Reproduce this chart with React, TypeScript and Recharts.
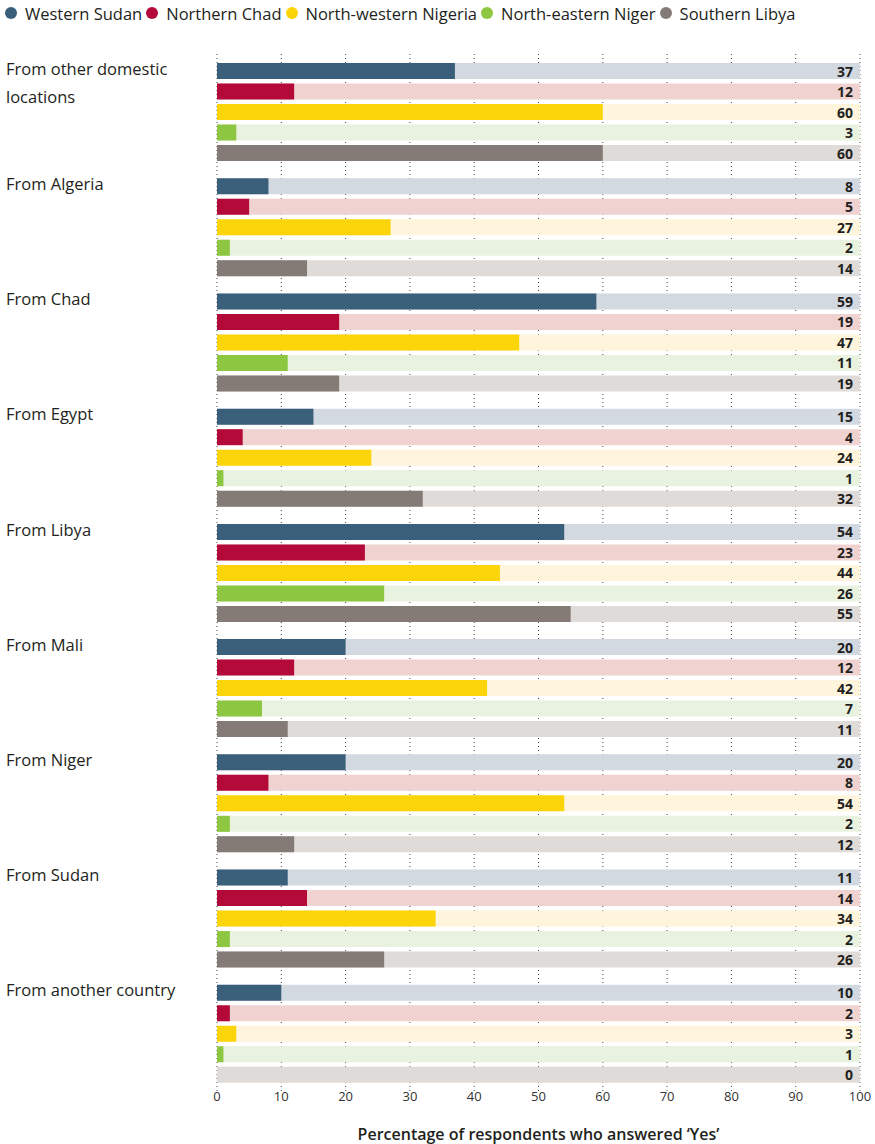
import React from "react";
import {
  BarChart,
  Bar,
  XAxis,
  YAxis,
  CartesianGrid,
  Legend,
  LabelList,
  Label,
} from "recharts";

const categories = [
  "From other domestic locations",
  "From Algeria",
  "From Chad",
  "From Egypt",
  "From Libya",
  "From Mali",
  "From Niger",
  "From Sudan",
  "From another country",
];

const westernSudan = [37, 8, 59, 15, 54, 20, 20, 11, 10];
const northernChad = [12, 5, 19, 4, 23, 12, 8, 14, 2];
const nwNigeria = [60, 27, 47, 24, 44, 42, 54, 34, 3];
const neNiger = [3, 2, 11, 1, 26, 7, 2, 2, 1];
const southernLibya = [60, 14, 19, 32, 55, 11, 12, 26, 0];

const xTicks = [0, 10, 20, 30, 40, 50, 60, 70, 80, 90, 100];

const series = [
  { key: "ws", name: "Western Sudan", values: westernSudan, color: "#3a5f7b", bg: "#d3d9e0" },
  { key: "nc", name: "Northern Chad", values: northernChad, color: "#b40a3a", bg: "#f0d3d0" },
  { key: "nn", name: "North-western Nigeria", values: nwNigeria, color: "#fcd40a", bg: "#fef5dc" },
  { key: "ne", name: "North-eastern Niger", values: neNiger, color: "#8dc641", bg: "#e9f2de" },
  { key: "sl", name: "Southern Libya", values: southernLibya, color: "#857b76", bg: "#dfdbd8" },
];

const data = categories.map((name, i) => {
  const row: Record<string, string | number> = { name };
  series.forEach((s) => {
    row[s.key] = s.values[i];
  });
  return row;
});

const FONT = "'Open Sans', sans-serif";
const WIDTH = 875;
const HEIGHT = 1144;
const MARGIN = { top: 28, right: 15, left: 0, bottom: 0 };
const PLOT_RIGHT = WIDTH - MARGIN.right;

function wrap(text: string, max: number): string[] {
  const lines: string[] = [];
  let cur = "";
  text.split(" ").forEach((w) => {
    const next = cur ? cur + " " + w : w;
    if (next.length > max && cur) {
      lines.push(cur);
      cur = w;
    } else {
      cur = next;
    }
  });
  if (cur) lines.push(cur);
  return lines;
}

const CategoryTick = (props: any) => {
  const { y, payload } = props;
  const lines = wrap(String(payload.value), 20);
  return (
    <text
      x={6}
      y={y - 44}
      fill="#231f20"
      fontSize={16.5}
      fontFamily={FONT}
      dominantBaseline="central"
    >
      {lines.map((l, i) => (
        <tspan key={i} x={6} dy={i === 0 ? 0 : 28}>
          {l}
        </tspan>
      ))}
    </text>
  );
};

const ValueLabel = (props: any) => {
  const vb = props.viewBox || {};
  const y = Number(props.y ?? vb.y);
  const h = Number(props.height ?? vb.height);
  return (
    <text
      x={PLOT_RIGHT - 7}
      y={y + h / 2}
      textAnchor="end"
      dominantBaseline="central"
      fontSize={14}
      fontWeight={700}
      fontFamily={FONT}
      fill="#231f20"
    >
      {props.value}
    </text>
  );
};

const LegendContent = () => (
  <div
    style={{
      display: "flex",
      alignItems: "center",
      height: 26,
      paddingLeft: 5,
      fontFamily: FONT,
      fontSize: 16.5,
      color: "#231f20",
      whiteSpace: "nowrap",
    }}
  >
    {series.map((s) => (
      <div key={s.key} style={{ display: "flex", alignItems: "center", marginRight: 4 }}>
        <span
          style={{
            width: 12,
            height: 12,
            borderRadius: 6,
            background: s.color,
            marginRight: 8,
            display: "inline-block",
          }}
        />
        <span>{s.name}</span>
      </div>
    ))}
  </div>
);

// keep zero-valued rows (background + label) by giving them a hairline size
const minSize = (value: any) => (Number(value) === 0 ? 0.01 : 0);

export default function App(): JSX.Element {
  return (
    <div style={{ position: "absolute", left: 0, top: 0, width: WIDTH, height: HEIGHT, background: "#fff" }}>
      <BarChart
        width={WIDTH}
        height={HEIGHT}
        data={data}
        layout="vertical"
        margin={MARGIN}
        barGap={4.5}
      >
        <Legend
          verticalAlign="top"
          align="left"
          content={<LegendContent />}
          wrapperStyle={{ top: 0, left: 0, width: WIDTH, height: 26 }}
        />
        <CartesianGrid
          horizontal={false}
          vertical={true}
          stroke="#444"
          strokeDasharray="1 3"
        />
        <XAxis
          type="number"
          domain={[0, 100]}
          ticks={xTicks}
          axisLine={false}
          tickLine={false}
          tickSize={1}
          tickMargin={0}
          height={53}
          interval={0}
          tick={{ fill: "#333", fontSize: 13, fontFamily: FONT }}
        >
          <Label
            value="Percentage of respondents who answered ‘Yes’"
            position="insideBottom"
            offset={4}
            fill="#231f20"
            fontSize={16}
            fontWeight={600}
            fontFamily={FONT}
          />
        </XAxis>
        <YAxis
          type="category"
          dataKey="name"
          width={217}
          axisLine={false}
          tickLine={false}
          interval={0}
          tick={<CategoryTick />}
        />
        {series.map((s) => (
          <Bar
            key={s.key}
            dataKey={s.key}
            name={s.name}
            fill={s.color}
            barSize={16}
            minPointSize={minSize}
            background={{ fill: s.bg }}
            isAnimationActive={false}
          >
            <LabelList dataKey={s.key} content={<ValueLabel />} />
          </Bar>
        ))}
      </BarChart>
    </div>
  );
}
